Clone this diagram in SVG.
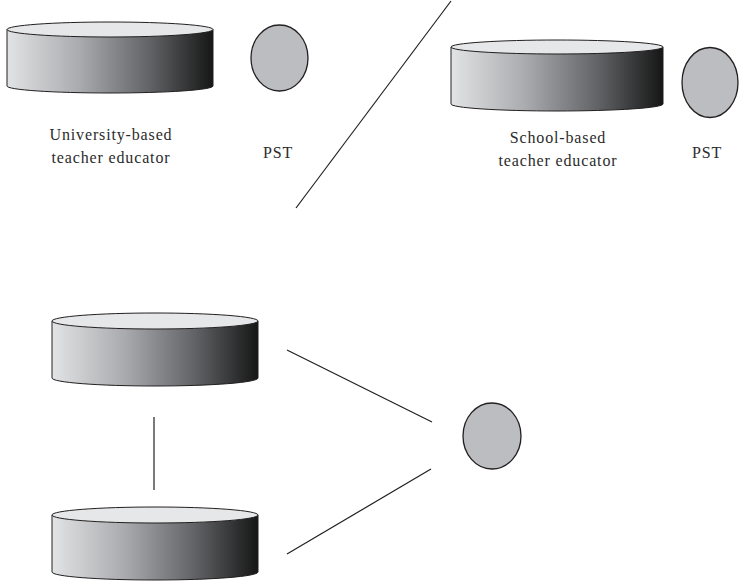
<svg xmlns="http://www.w3.org/2000/svg" width="739" height="583" viewBox="0 0 739 583">
<defs>
<linearGradient id="body" x1="0" y1="0" x2="1" y2="0">
<stop offset="0" stop-color="#e2e3e5"/>
<stop offset="0.35" stop-color="#a9abae"/>
<stop offset="0.7" stop-color="#5f6164"/>
<stop offset="1" stop-color="#161616"/>
</linearGradient>
</defs>
<style>
.body{fill:url(#body);stroke:#231f20;stroke-width:1}
.top{fill:#e6e7e8;stroke:#231f20;stroke-width:1}
.pst{fill:#bcbdc0;stroke:#231f20;stroke-width:1.3}
.lbl{font-family:'Liberation Serif','Times New Roman',serif;font-size:16px;letter-spacing:0.85px;fill:#2b2b2b;text-anchor:middle}
.conn{stroke:#231f20;stroke-width:1.2;fill:none}
</style>
<g id="connectors">
<line class="conn" x1="451" y1="1" x2="296" y2="208"/>
<line class="conn" x1="154" y1="417" x2="154" y2="490"/>
<line class="conn" x1="287" y1="350" x2="432" y2="422"/>
<line class="conn" x1="431" y1="469" x2="287" y2="554"/>
</g>
<g id="univ-educator">
<path class="body" d="M7,29.5 L7,86 A103,7 0 0 0 213,86 L213,29.5 Z"/>
<ellipse class="top" cx="110" cy="29.5" rx="103" ry="7.5"/>
<text class="lbl" x="111" y="140">University-based</text>
<text class="lbl" x="111" y="163">teacher educator</text>
</g>
<g id="pst1">
<ellipse class="pst" cx="279.5" cy="58" rx="28.5" ry="33"/>
<text class="lbl" x="278" y="158">PST</text>
</g>
<g id="school-educator">
<path class="body" d="M451,47 L451,104 A106,7 0 0 0 663,104 L663,47 Z"/>
<ellipse class="top" cx="557" cy="47" rx="106" ry="7"/>
<text class="lbl" x="558" y="143">School-based</text>
<text class="lbl" x="558" y="166">teacher educator</text>
</g>
<g id="pst2">
<ellipse class="pst" cx="710" cy="82.5" rx="28" ry="35"/>
<text class="lbl" x="707" y="158">PST</text>
</g>
<g id="cyl3">
<path class="body" d="M52,321 L52,378 A103,8 0 0 0 258,378 L258,321 Z"/>
<ellipse class="top" cx="155" cy="321" rx="103" ry="8"/>
</g>
<g id="cyl4">
<path class="body" d="M52,515 L52,572 A103,8 0 0 0 258,572 L258,515 Z"/>
<ellipse class="top" cx="155" cy="515" rx="103" ry="8"/>
</g>
<g id="pst3">
<ellipse class="pst" cx="492" cy="436" rx="29" ry="33"/>
</g>
</svg>
